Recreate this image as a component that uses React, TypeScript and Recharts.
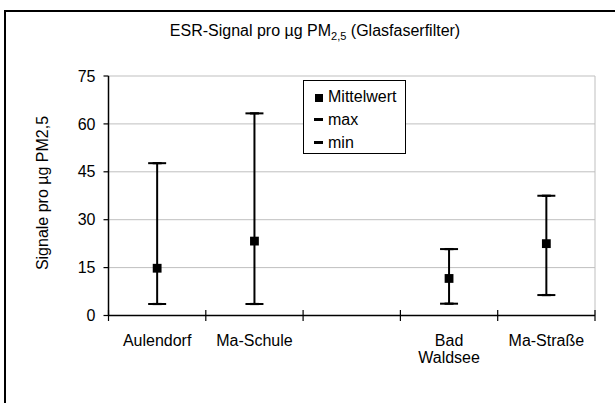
import React from 'react';
import { ComposedChart, Line, XAxis, YAxis, CartesianGrid, ErrorBar, Legend, Text } from 'recharts';

const categories = ['Aulendorf', 'Ma-Schule', '', 'Bad Waldsee', 'Ma-Straße'];
const meanValues: (number | null)[] = [14.8, 23.3, null, 11.6, 22.5];
const maxValues: (number | null)[] = [47.7, 63.3, null, 20.8, 37.5];
const minValues: (number | null)[] = [3.6, 3.6, null, 3.7, 6.4];
const yTicks = [0, 15, 30, 45, 60, 75];
const seriesNames = { mean: 'Mittelwert', max: 'max', min: 'min' };
const titleMain = 'ESR-Signal pro µg PM';
const titleSub = '2,5';
const titleEnd = ' (Glasfaserfilter)';
const yLabel = 'Signale pro µg PM2,5';

const FONT = "Arial, 'Liberation Sans', Helvetica, sans-serif";

const data = categories.map((name, i) => {
  const mean = meanValues[i];
  const mx = maxValues[i];
  const mn = minValues[i];
  return {
    name,
    mean,
    max: mx,
    min: mn,
    err: mean != null && mx != null && mn != null ? [mean - mn, mx - mean] : undefined,
  };
});

const XTick = (props: any) => {
  const { x, y, payload, index, visibleTicksCount, width } = props;
  const count = visibleTicksCount || categories.length;
  const band = (typeof width === 'number' && width > 0 ? width : 486) / count;
  return (
    <g>
      {index === 0 && (
        <line x1={x - band / 2} x2={x - band / 2} y1={y - 5.5} y2={y + 5.5} stroke="#000" strokeWidth={1.2} />
      )}
      <line x1={x + band / 2} x2={x + band / 2} y1={y - 5.5} y2={y + 5.5} stroke="#000" strokeWidth={1.2} />
      <Text
        x={x}
        y={y + 19.6}
        width={84}
        textAnchor="middle"
        verticalAnchor="start"
        lineHeight={17}
        fontSize={16}
        fontFamily={FONT}
        style={{ fontSize: 16, fontFamily: FONT }}
        fill="#000"
      >
        {payload.value}
      </Text>
    </g>
  );
};

const SquareDot = (props: any) => {
  const { cx, cy, index } = props;
  if (cx == null || cy == null || isNaN(cy)) return <g key={`sq-${index}`} />;
  return <rect key={`sq-${index}`} x={cx - 4.4} y={cy - 4.4} width={8.8} height={8.8} fill="#000" />;
};

const DashDot = (props: any) => {
  const { cx, cy, index, dataKey } = props;
  if (cx == null || cy == null || isNaN(cy)) return <g key={`d-${dataKey}-${index}`} />;
  return <rect key={`d-${dataKey}-${index}`} x={cx - 4.5} y={cy - 1.1} width={9} height={2.2} fill="#000" />;
};

const renderLegend = (props: any) => {
  const payload = props.payload || [];
  return (
    <div
      style={{
        border: '1px solid #000',
        background: '#fff',
        width: 103,
        height: 74,
        boxSizing: 'border-box',
        paddingTop: 4,
        fontFamily: FONT,
        fontSize: 16,
        color: '#000',
      }}
    >
      {payload.map((entry: any) => (
        <div
          key={entry.value}
          style={{ display: 'flex', alignItems: 'center', height: 23, lineHeight: '23px', paddingLeft: 10 }}
        >
          {entry.dataKey === 'mean' ? (
            <span style={{ display: 'inline-block', width: 8, height: 8, background: '#000', marginTop: 2, marginRight: 5, marginLeft: 1 }} />
          ) : (
            <span style={{ display: 'inline-block', width: 9, height: 2.5, background: '#000', marginRight: 5 }} />
          )}
          <span>{entry.value}</span>
        </div>
      ))}
    </div>
  );
};

export default function App() {
  return (
    <div style={{ position: 'absolute', left: 0, top: 0, width: 615, height: 403, background: '#fff', overflow: 'hidden' }}>
      <div
        style={{
          position: 'absolute',
          left: 4,
          top: 10,
          width: 700,
          height: 500,
          borderTop: '2px solid #000',
          borderLeft: '2px solid #000',
        }}
      />
      <div
        style={{
          position: 'absolute',
          left: 0,
          top: 22,
          width: 630,
          textAlign: 'center',
          fontFamily: FONT,
          fontSize: 16,
          lineHeight: '18px',
          color: '#000',
          whiteSpace: 'nowrap',
        }}
      >
        {titleMain}
        <span style={{ fontSize: 11, position: 'relative', top: 4 }}>{titleSub}</span>
        {titleEnd}
      </div>
      <div
        style={{
          position: 'absolute',
          left: 43,
          top: 193,
          transform: 'translate(-50%, -50%) rotate(-90deg)',
          fontFamily: FONT,
          fontSize: 16,
          lineHeight: '18px',
          color: '#000',
          whiteSpace: 'nowrap',
        }}
      >
        {yLabel}
      </div>
      <div style={{ position: 'absolute', left: 0, top: 0 }}>
        <ComposedChart width={615} height={403} data={data} margin={{ top: 76, right: 20, left: 20, bottom: 27.5 }}>
          <CartesianGrid
            stroke="#bfbfbf"
            strokeWidth={1}
            verticalCoordinatesGenerator={(p: any) => [p.offset.left + p.offset.width]}
          />
          <XAxis
            dataKey="name"
            scale="band"
            interval={0}
            tickSize={0}
            tickMargin={0}
            tickLine={false}
            axisLine={{ stroke: '#000', strokeWidth: 1.5 }}
            tick={(p: any) => <XTick {...p} />}
            height={60}
          />
          <YAxis
            type="number"
            domain={[0, 75]}
            ticks={yTicks}
            interval={0}
            allowDataOverflow
            tickSize={5}
            tickMargin={8}
            width={88.5}
            axisLine={{ stroke: '#000', strokeWidth: 1.5 }}
            tickLine={{ stroke: '#000', strokeWidth: 1.2 }}
            tick={{ fill: '#000', fontSize: 16, fontFamily: FONT }}
          />
          <Legend
            layout="vertical"
            align="center"
            verticalAlign="middle"
            wrapperStyle={{ left: 303, top: 80, width: 103, height: 74 }}
            content={renderLegend}
          />
          <Line
            dataKey="mean"
            name={seriesNames.mean}
            stroke="none"
            dot={(p: any) => <SquareDot {...p} />}
            activeDot={false}
            isAnimationActive={false}
          >
            <ErrorBar dataKey="err" direction="y" width={9} strokeWidth={2} stroke="#000" />
          </Line>
          <Line
            dataKey="max"
            name={seriesNames.max}
            stroke="none"
            dot={(p: any) => <DashDot {...p} dataKey="max" />}
            activeDot={false}
            isAnimationActive={false}
          />
          <Line
            dataKey="min"
            name={seriesNames.min}
            stroke="none"
            dot={(p: any) => <DashDot {...p} dataKey="min" />}
            activeDot={false}
            isAnimationActive={false}
          />
        </ComposedChart>
      </div>
    </div>
  );
}
